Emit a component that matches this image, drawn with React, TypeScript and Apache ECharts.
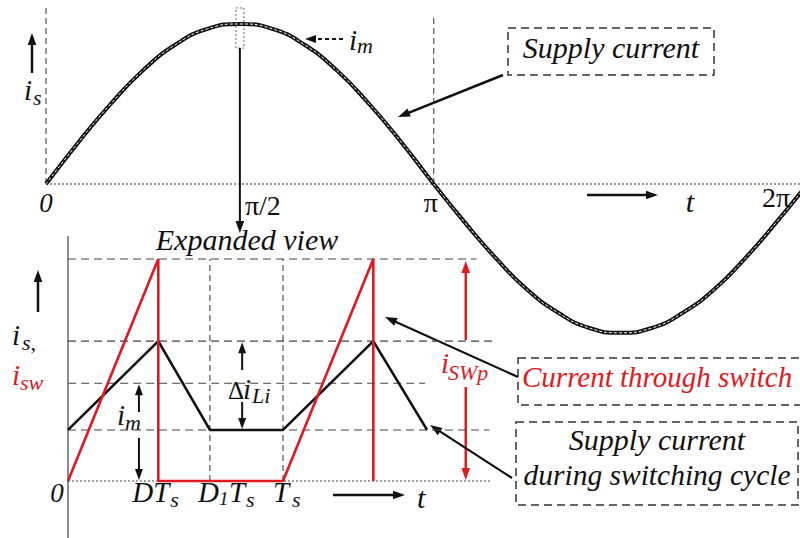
import React, { useEffect, useRef } from "react";
import * as echarts from "echarts";

const RED = "#e2191e";
const INK = "#111111";
const GUIDE = "#444444";
const SERIF = "Liberation Serif";

// Line-frequency supply current: phase (degrees) and per-unit value
const linePhase = [0, 15, 30, 45, 60, 75, 90, 105, 120, 135, 150, 165, 180, 194.4, 208.9, 223.3, 237.8, 252.2, 266.7, 281.2, 295.6, 310.1, 324.5, 339, 353.5];
const lineCurrent = [0, 0.26, 0.5, 0.71, 0.87, 0.97, 1, 0.97, 0.87, 0.71, 0.5, 0.26, 0, -0.24, -0.465, -0.66, -0.805, -0.9, -0.93, -0.9, -0.805, -0.66, -0.465, -0.24, 0];
const lineMarks = [0, 180];
const lineMarkTops = [1.12, 1.06];

// Expanded switching cycle: time in units of Ts, current per unit of i_SWp
const switchTime = [0, 0.42, 0.42, 1, 1.42, 1.42];
const switchCurrent = [0, 1, 0, 0, 1, 0];
const supplyTime = [0, 0.42, 0.66, 1, 1.42, 1.67];
const supplyCurrent = [0.23, 0.63, 0.23, 0.23, 0.63, 0.23];
const dutyD = 0.42;
const dutyD1 = 0.66;

// Horizontal guide levels (i_SWp, peak, i_m, valley) and their spans
const guideLevels = [1, 0.63, 0.44, 0.23];
const guideStart = [0, 0, -0.12, 0];
const guideEnd = [1.9, 1.99, 1.66, 1.96];
const zeroEnd = 1.97;
const verticalGuides = [dutyD1, 1];

type Pt = [number, number];

function arrow(x1: number, y1: number, x2: number, y2: number, color: string, width: number, dash?: number[], head = 12): any[] {
  const dx = x2 - x1;
  const dy = y2 - y1;
  const L = Math.hypot(dx, dy);
  const ux = dx / L;
  const uy = dy / L;
  const half = head * 0.36;
  const bx = x2 - ux * head;
  const by = y2 - uy * head;
  return [
    {
      type: "line",
      shape: { x1, y1, x2: x2 - ux * head * 0.6, y2: y2 - uy * head * 0.6 },
      style: { stroke: color, lineWidth: width, lineDash: dash },
    },
    {
      type: "polygon",
      shape: { points: [[x2, y2], [bx - uy * half, by + ux * half], [bx + uy * half, by - ux * half]] },
      style: { fill: color },
    },
  ];
}

// text placed by its alphabetic baseline
function word(
  x: number,
  baseline: number,
  text: string,
  size: number,
  opt: { color?: string; italic?: boolean; align?: string } = {}
): any {
  return {
    type: "text",
    x,
    y: baseline - 0.34 * size,
    style: {
      text,
      fontFamily: SERIF,
      fontSize: size,
      fontStyle: opt.italic === false ? "normal" : "italic",
      fill: opt.color ?? INK,
      align: opt.align ?? "left",
      verticalAlign: "middle",
    },
  };
}

function box(x1: number, y1: number, x2: number, y2: number): any {
  return {
    type: "rect",
    shape: { x: x1, y: y1, width: x2 - x1, height: y2 - y1 },
    style: { fill: "none", stroke: "#333", lineWidth: 1.5, lineDash: [8, 5] },
  };
}

function seg(data: Pt[], xi: number, color: string, width: number, type: any = "solid"): any {
  return {
    type: "line",
    xAxisIndex: xi,
    yAxisIndex: xi,
    data,
    symbol: "none",
    clip: false,
    silent: true,
    lineStyle: { color, width, type },
  };
}

export default function App() {
  const ref = useRef<HTMLDivElement>(null);

  useEffect(() => {
    if (!ref.current) return;
    const chart = echarts.init(ref.current, undefined, { renderer: "svg" });

    const lineData: Pt[] = linePhase.map((p, i) => [p, lineCurrent[i]]);
    const swData: Pt[] = switchTime.map((t, i) => [t, switchCurrent[i]]);
    const supData: Pt[] = supplyTime.map((t, i) => [t, supplyCurrent[i]]);

    const series: any[] = [
      seg([[0, 0], [350, 0]], 0, "#333", 1, [2, 2]),
      ...lineMarks.map((m, i) => seg([[m, 0], [m, lineMarkTops[i]]], 0, "#333", 1, [6, 4])),
      {
        type: "line",
        xAxisIndex: 0,
        yAxisIndex: 0,
        data: lineData,
        smooth: true,
        symbol: "none",
        silent: true,
        lineStyle: { color: INK, width: 4 },
      },
      {
        type: "line",
        xAxisIndex: 0,
        yAxisIndex: 0,
        data: lineData,
        smooth: true,
        symbol: "none",
        silent: true,
        lineStyle: { color: "#ffffff", width: 1, type: [3, 2] },
      },
      ...guideLevels.map((lv, i) => seg([[guideStart[i], lv], [guideEnd[i], lv]], 1, GUIDE, 1.1, [8, 5])),
      seg([[0, 0], [zeroEnd, 0]], 1, "#444", 1, [2, 2]),
      ...verticalGuides.map((v) => seg([[v, 0], [v, 1]], 1, GUIDE, 1.1, [6, 4])),
      seg(supData, 1, INK, 2.6),
      seg(swData, 1, RED, 2.6),
    ];

    chart.setOption({
      animation: false,
      backgroundColor: "#ffffff",
      textStyle: { fontFamily: SERIF },
      grid: [
        { left: 46, right: 0, top: 0, bottom: 194 },
        { left: 68, width: 430, top: 259, height: 222 },
      ],
      xAxis: [
        { type: "value", gridIndex: 0, min: 0, max: 350, show: false },
        { type: "value", gridIndex: 1, min: 0, max: 2, show: false },
      ],
      yAxis: [
        { type: "value", gridIndex: 0, min: -1, max: 1.15, show: false },
        { type: "value", gridIndex: 1, min: 0, max: 1, show: false },
      ],
      series,
    });

    const p1 = (x: number, y: number): Pt => chart.convertToPixel({ gridIndex: 1 }, [x, y]) as Pt;
    const p0 = (x: number, y: number): Pt => chart.convertToPixel({ gridIndex: 0 }, [x, y]) as Pt;

    const [z0x, z0y] = p0(0, 0);
    const [piX] = p0(180, 0);
    const [halfX] = p0(90, 0);
    const [ox, oy] = p1(0, 0);
    const [, topY] = p1(0, 1);
    const [, pkY] = p1(0, guideLevels[1]);
    const [, lowY] = p1(0, guideLevels[3]);
    const [, imY] = p1(0, guideLevels[2]);
    const [dX] = p1(dutyD, 0);
    const [d1X] = p1(dutyD1, 0);
    const [tsX] = p1(1, 0);
    const [imArrX] = p1(0.33, 0);
    const [diArrX] = p1(0.81, 0);
    const [swArrX] = p1(1.85, 0);
    const tb = oy + 21;

    const graphic: any[] = [
      // upper panel
      word(z0x, z0y + 28, "0", 27, { align: "center" }),
      word(halfX + 5, z0y + 31, "π/2", 28, { italic: false }),
      word(piX - 3, z0y + 28, "π", 28, { italic: false, align: "center" }),
      word(776, z0y + 23, "2π", 28, { italic: false, align: "center" }),
      ...arrow(587, 195, 658, 195, INK, 2.5),
      word(690, 212, "t", 30, { align: "center" }),
      ...arrow(32, 73, 32, 33, INK, 2.5),
      word(24, 100, "i", 29),
      word(33, 105, "s", 22),
      ...arrow(343, 39, 305, 39, INK, 2, [4, 3], 11),
      word(349, 50, "i", 29),
      word(357, 53, "m", 22),
      {
        type: "rect",
        shape: { x: halfX - 4, y: 8, width: 8, height: 40 },
        style: { fill: "none", stroke: "#666", lineWidth: 1, lineDash: [2, 2] },
      },
      ...arrow(halfX, 48, halfX, 233, INK, 2),
      box(508, 28, 714, 75),
      word(611, 58, "Supply current", 30, { align: "center" }),
      ...arrow(503, 75, 398, 117, INK, 2.5),

      // expanded switching-cycle view
      {
        type: "line",
        shape: { x1: ox, y1: 236, x2: ox, y2: 538 },
        style: { stroke: "#666", lineWidth: 1.5 },
      },
      word(247, 250, "Expanded view", 30, { align: "center" }),
      ...arrow(38, 312, 38, 270, INK, 2.5),
      word(12, 345, "i", 29),
      word(22, 350, "s,", 22),
      word(12, 385, "i", 29, { color: RED }),
      word(20, 390, "sw", 22, { color: RED }),
      word(ox - 11, tb, "0", 27, { align: "center" }),
      word(dX - 26, tb, "DT", 29),
      word(dX + 12, tb + 5, "s", 22),
      word(d1X - 12, tb, "D", 29),
      word(d1X + 9, tb + 3, "1", 19),
      word(d1X + 19, tb, "T", 29),
      word(d1X + 36, tb + 5, "s", 22),
      word(tsX - 10, tb, "T", 29),
      word(tsX + 9, tb + 5, "s", 22),
      ...arrow(333, 495, 405, 495, INK, 2.5),
      word(417, 508, "t", 30),
      // i_m span
      ...arrow(imArrX, 412, imArrX, imY + 1, INK, 2, undefined, 11),
      ...arrow(imArrX, 438, imArrX, oy - 1, INK, 2, undefined, 11),
      word(117, 425, "i", 29),
      word(125, 430, "m", 22),
      // ripple span
      ...arrow(diArrX, 370, diArrX, pkY + 1, INK, 2, undefined, 11),
      ...arrow(diArrX, 402, diArrX, lowY - 1, INK, 2, undefined, 11),
      word(228, 399, "Δ", 25, { italic: false }),
      word(243, 399, "i", 29),
      word(252, 403, "Li", 22),
      // switch peak span
      ...arrow(swArrX, 340, swArrX, topY + 2, RED, 2.5, undefined, 12),
      ...arrow(swArrX, 387, swArrX, oy - 1, RED, 2.5, undefined, 12),
      word(441, 373, "i", 29, { color: RED }),
      word(448, 380, "SWp", 22, { color: RED }),
      // callouts
      ...arrow(518, 377, 385, 317, INK, 2.2),
      box(518, 358, 812, 405),
      word(522, 387, "Current through switch", 29, { color: RED }),
      ...arrow(512, 478, 430, 425, INK, 2.2),
      box(516, 422, 798, 505),
      word(657, 450, "Supply current", 30, { align: "center" }),
      word(657, 485, "during switching cycle", 29.5, { align: "center" }),
    ];

    chart.setOption({ graphic });

    return () => chart.dispose();
  }, []);

  return (
    <div
      ref={ref}
      style={{ position: "fixed", left: 0, top: 0, width: 800, height: 538, background: "#fff" }}
    />
  );
}
